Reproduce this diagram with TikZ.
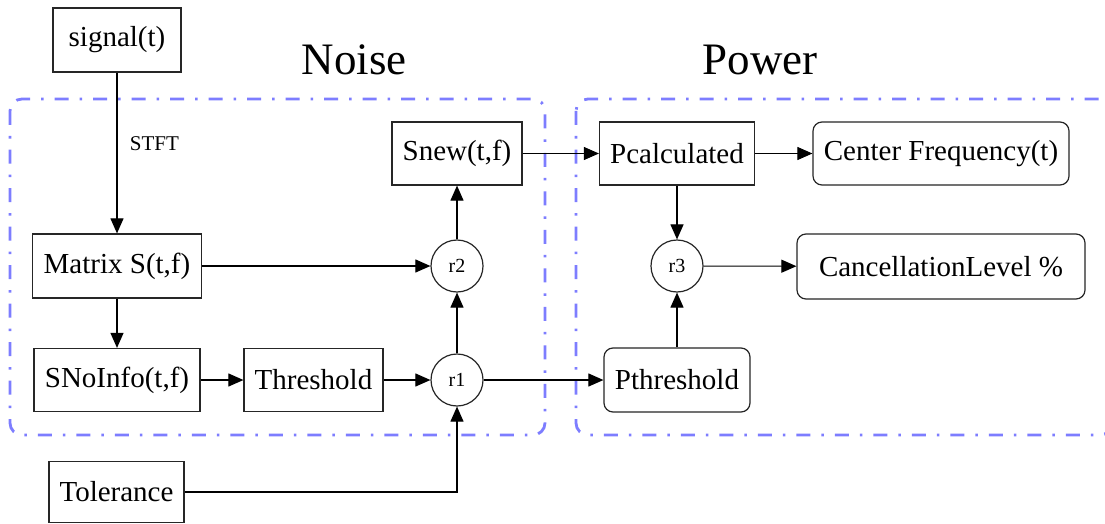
\documentclass[tikz,border=0pt]{standalone}
\usepackage{fontspec}
\setmainfont{Liberation Serif}
\usetikzlibrary{arrows.meta}
\definecolor{clusterblue}{RGB}{125,125,255}
\tikzset{
  box/.style={draw=black!85, line width=1.2pt, inner sep=0pt, font=\rmfamily\fontsize{29}{33}\selectfont},
  rbox/.style={box, rounded corners=9pt},
  junc/.style={draw=black!85, line width=1.2pt, circle, inner sep=0pt, minimum size=52pt, font=\rmfamily\fontsize{20}{24}\selectfont},
  flow/.style={draw=black, line width=1.1pt, -{Triangle[length=15pt,width=13pt]}},
  cluster/.style={draw=clusterblue, line width=2.8pt, rounded corners=12pt, dash pattern=on 14pt off 11pt on 2.5pt off 11pt},
  title/.style={font=\rmfamily\fontsize{45}{50}\selectfont, inner sep=0pt}
}
\begin{document}
\begin{tikzpicture}[x=1pt,y=-1pt]
\useasboundingbox (0,0) rectangle (1105,524);
\clip (0,0) rectangle (1105,524);
\fill[white] (0,0) rectangle (1105,524);
% clusters
\draw[cluster] (10,99) rectangle (545,435);
\draw[cluster] (576,99) rectangle (1112,435);
\node[title] (tnoise) at (354,60) {Noise};
\node[title] (tpower) at (760,60) {Power};
% nodes
\node[box, minimum width=128pt, minimum height=64pt] (sig) at (117,40) {signal(t)};
\node[box, minimum width=169pt, minimum height=64pt] (mat) at (117,266) {Matrix S(t,f)};
\node[box, minimum width=166pt, minimum height=63pt] (sno) at (117,380) {SNoInfo(t,f)};
\node[box, minimum width=139pt, minimum height=63pt] (thr) at (313.5,380) {Threshold};
\node[box, minimum width=135pt, minimum height=61pt] (tol) at (116.5,492) {Tolerance};
\node[box, minimum width=130pt, minimum height=63pt] (snew) at (457,153.5) {Snew(t,f)};
\node[junc] (r1) at (457,380) {r1};
\node[junc] (r2) at (457,266) {r2};
\node[box, minimum width=155pt, minimum height=63pt] (pcal) at (677,153.5) {Pcalculated};
\node[rbox, minimum width=256pt, minimum height=63pt] (cf) at (941,153.5) {Center Frequency(t)};
\node[junc] (r3) at (677,266) {r3};
\node[rbox, minimum width=288pt, minimum height=65pt] (canc) at (941,266.5) {CancellationLevel \%};
\node[rbox, minimum width=146pt, minimum height=64pt] (pthr) at (677,380) {Pthreshold};
% edges
\draw[flow] (sig) -- node[right, pos=0.44, xshift=9pt, font=\rmfamily\fontsize{21}{24}\selectfont] {STFT} (mat);
\draw[flow] (mat) -- (sno);
\draw[flow] (mat) -- (r2);
\draw[flow] (sno) -- (thr);
\draw[flow] (thr) -- (r1);
\draw[flow] (tol.east) -| (r1.south);
\draw[flow] (r1) -- (r2);
\draw[flow] (r2) -- (snew);
\draw[flow] (snew) -- (pcal);
\draw[flow] (r1) -- (pthr);
\draw[flow] (pcal) -- (cf);
\draw[flow] (pcal) -- (r3);
\draw[flow] (pthr) -- (r3);
\draw[flow] (r3) -- (canc);
\end{tikzpicture}
\end{document}
